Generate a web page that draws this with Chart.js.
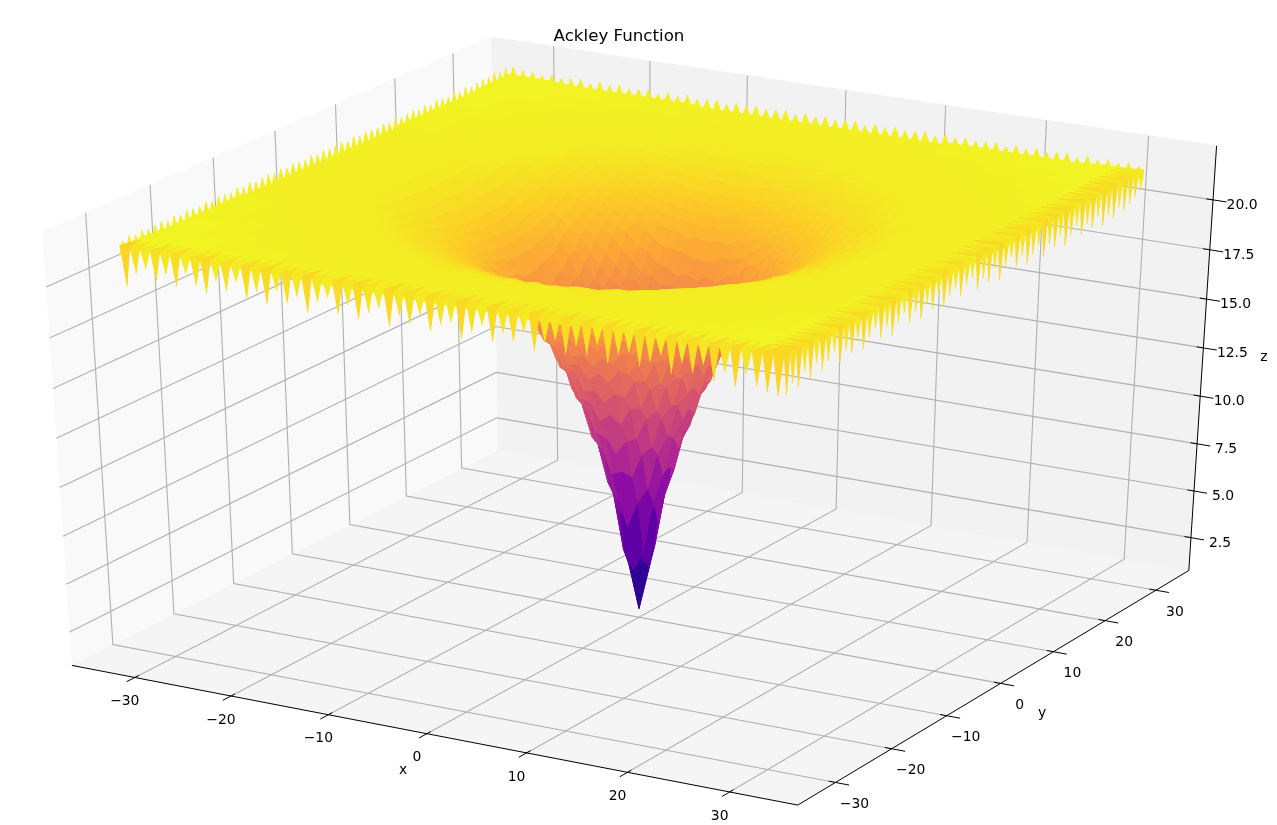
<!DOCTYPE html>
<html>
<head>
<meta charset="utf-8">
<title>Ackley Function</title>
<script src="https://cdn.jsdelivr.net/npm/chart.js@4"></script>
<style>
  html, body { margin: 0; padding: 0; background: #fff; }
  canvas { display: block; }
</style>
</head>
<body>
<canvas id="surface" width="1277" height="825"></canvas>
<script>
var xTicks = [-30, -20, -10, 0, 10, 20, 30]
var yTicks = [-30, -20, -10, 0, 10, 20, 30]
var zTicks = [2.5, 5, 7.5, 10, 12.5, 15, 17.5, 20]

// distance from the centre of each grid line, the table covers one quadrant
var gridSteps = [0, 1, 2, 3, 4, 5, 6, 7, 8, 9, 10, 11, 12, 13, 14, 15, 16, 17.5, 19, 21, 23, 25.5, 28.5, 32]

var zQuadrant = [
    [1.2, 3.4, 5.9, 8.9, 10, 12.1, 12.9, 14.5, 15, 16.3, 16.7, 17.6, 18.4, 19, 19.3, 19.8, 20, 20.4, 20.7, 21.1, 21.3, 21.3, 21.4, 21.5],
    [3.4, 4.4, 7.2, 8.7, 10.7, 11.7, 13.4, 14.1, 15.5, 16, 17, 17.6, 18.5, 18.9, 19.4, 19.6, 20.1, 20.3, 20.8, 21, 21.4, 21.3, 21.4, 21.5],
    [5.9, 7.2, 8, 9.9, 10.9, 12.6, 13.3, 14.8, 15.3, 16.5, 16.8, 17.9, 18.4, 19, 19.3, 19.7, 20, 20.5, 20.7, 21.1, 21.3, 21.4, 21.4, 21.5],
    [8.9, 8.7, 9.9, 10.4, 12, 12.7, 14.2, 14.7, 15.9, 16.4, 17.2, 17.9, 18.7, 19, 19.4, 19.8, 20.1, 20.5, 20.7, 21.1, 21.3, 21.4, 21.4, 21.5],
    [10, 10.7, 10.9, 12, 12.5, 13.8, 14.3, 15.5, 15.9, 16.8, 17.3, 18, 18.7, 19.2, 19.5, 19.9, 20.1, 20.5, 20.8, 21.1, 21.4, 21.4, 21.4, 21.5],
    [12.1, 11.7, 12.6, 12.7, 13.8, 14.1, 15.3, 15.6, 16.6, 16.9, 17.9, 18.4, 19, 19.2, 19.7, 19.9, 20.3, 20.5, 20.9, 21.1, 21.4, 21.4, 21.4, 21.5],
    [12.9, 13.4, 13.3, 14.2, 14.3, 15.3, 15.5, 16.4, 16.7, 17.5, 18, 18.8, 19, 19.5, 19.7, 20.1, 20.3, 20.6, 20.9, 21.2, 21.3, 21.4, 21.4, 21.5],
    [14.5, 14.1, 14.8, 14.7, 15.5, 15.6, 16.4, 16.7, 17.3, 17.9, 18.6, 18.9, 19.3, 19.6, 19.9, 20.2, 20.4, 20.7, 20.9, 21.2, 21.3, 21.4, 21.4, 21.5],
    [15, 15.5, 15.3, 15.9, 15.9, 16.6, 16.7, 17.3, 17.8, 18.5, 18.8, 19.2, 19.5, 19.8, 20.1, 20.3, 20.5, 20.7, 21, 21.2, 21.3, 21.4, 21.4, 21.5],
    [16.3, 16, 16.5, 16.4, 16.8, 16.9, 17.5, 17.9, 18.5, 18.8, 19.1, 19.4, 19.7, 19.9, 20.2, 20.4, 20.6, 20.8, 21.1, 21.3, 21.3, 21.4, 21.4, 21.5],
    [16.7, 17, 16.8, 17.2, 17.3, 17.9, 18, 18.6, 18.8, 19.1, 19.4, 19.7, 19.9, 20.1, 20.4, 20.5, 20.7, 20.9, 21.1, 21.4, 21.3, 21.4, 21.4, 21.5],
    [17.6, 17.6, 17.9, 17.9, 18, 18.4, 18.8, 18.9, 19.2, 19.4, 19.7, 19.9, 20.1, 20.3, 20.5, 20.7, 20.8, 21, 21.2, 21.4, 21.4, 21.4, 21.4, 21.5],
    [18.4, 18.5, 18.4, 18.7, 18.7, 19, 19, 19.3, 19.5, 19.7, 19.9, 20.1, 20.3, 20.4, 20.6, 20.8, 20.9, 21.1, 21.3, 21.4, 21.4, 21.4, 21.4, 21.5],
    [19, 18.9, 19, 19, 19.2, 19.2, 19.5, 19.6, 19.8, 19.9, 20.1, 20.3, 20.4, 20.6, 20.7, 20.9, 21, 21.2, 21.3, 21.4, 21.4, 21.4, 21.5, 21.6],
    [19.3, 19.4, 19.3, 19.4, 19.5, 19.7, 19.7, 19.9, 20.1, 20.2, 20.4, 20.5, 20.6, 20.7, 20.9, 21, 21.1, 21.3, 21.3, 21.4, 21.4, 21.4, 21.5, 21.6],
    [19.8, 19.6, 19.7, 19.8, 19.9, 19.9, 20.1, 20.2, 20.3, 20.4, 20.5, 20.7, 20.8, 20.9, 21, 21.1, 21.2, 21.3, 21.3, 21.4, 21.4, 21.4, 21.5, 21.6],
    [20, 20.1, 20, 20.1, 20.1, 20.3, 20.3, 20.4, 20.5, 20.6, 20.7, 20.8, 20.9, 21, 21.1, 21.2, 21.3, 21.3, 21.4, 21.4, 21.4, 21.4, 21.5, 21.6],
    [20.4, 20.3, 20.5, 20.5, 20.5, 20.5, 20.6, 20.7, 20.7, 20.8, 20.9, 21, 21.1, 21.2, 21.3, 21.3, 21.3, 21.4, 21.4, 21.4, 21.4, 21.5, 21.5, 21.6],
    [20.7, 20.8, 20.7, 20.7, 20.8, 20.9, 20.9, 20.9, 21, 21.1, 21.1, 21.2, 21.3, 21.3, 21.3, 21.3, 21.4, 21.4, 21.4, 21.4, 21.4, 21.5, 21.5, 21.6],
    [21.1, 21, 21.1, 21.1, 21.1, 21.1, 21.2, 21.2, 21.2, 21.3, 21.4, 21.4, 21.4, 21.4, 21.4, 21.4, 21.4, 21.4, 21.4, 21.4, 21.5, 21.5, 21.6, 21.6],
    [21.3, 21.4, 21.3, 21.3, 21.4, 21.4, 21.3, 21.3, 21.3, 21.3, 21.3, 21.4, 21.4, 21.4, 21.4, 21.4, 21.4, 21.4, 21.4, 21.5, 21.5, 21.5, 21.6, 21.6],
    [21.3, 21.3, 21.4, 21.4, 21.4, 21.4, 21.4, 21.4, 21.4, 21.4, 21.4, 21.4, 21.4, 21.4, 21.4, 21.4, 21.4, 21.5, 21.5, 21.5, 21.5, 21.6, 21.6, 21.6],
    [21.4, 21.4, 21.4, 21.4, 21.4, 21.4, 21.4, 21.4, 21.4, 21.4, 21.4, 21.4, 21.4, 21.5, 21.5, 21.5, 21.5, 21.5, 21.5, 21.6, 21.6, 21.6, 21.6, 21.7],
    [21.5, 21.5, 21.5, 21.5, 21.5, 21.5, 21.5, 21.5, 21.5, 21.5, 21.5, 21.5, 21.5, 21.6, 21.6, 21.6, 21.6, 21.6, 21.6, 21.6, 21.6, 21.6, 21.7, 21.7]
]

// tips of the saw teeth along the four rim edges, one per unit of x or y
var backLeftTips = [
    21.9, 22, 21.9, 22, 21.9, 21.95, 22, 21.9, 22, 21.9, 22, 21.95, 21.9, 22, 21.9, 22,
    21.95, 21.9, 22, 21.9, 22, 21.9, 21.95, 22, 21.9, 22, 21.9, 22, 21.95, 21.9, 22, 21.9,
    22, 21.9, 21.95, 22, 21.9, 22, 21.9, 22, 21.95, 21.9, 22, 21.9, 22, 21.9, 21.95, 22,
    21.9, 22, 21.9, 22, 21.95, 21.9, 22, 21.9, 22, 21.9, 21.95, 22, 22, 22.1, 22, 22.1
]
var backRightTips = [
    22.1, 22, 22, 21.9, 22, 21.9, 21.95, 22, 21.85, 22, 21.9, 22, 21.9, 21.95, 22, 21.85,
    22, 21.9, 22, 21.9, 21.95, 22, 21.85, 22, 21.9, 22, 21.9, 21.95, 22, 21.85, 22, 21.9,
    22, 21.9, 21.95, 22, 21.85, 22, 21.9, 22, 21.9, 21.95, 22, 21.85, 22, 21.9, 22, 21.9,
    21.95, 22, 21.85, 22, 21.9, 22, 21.9, 21.95, 22, 21.85, 22, 21.9, 22, 21.9, 22, 21.9
]
var frontLeftTips = [
    19.8, 20.5, 20.8, 20.3, 20.7, 20.2, 20.9, 20.4, 20.1, 20.8, 20.4, 20.9, 20.2, 20.6, 20.1, 20.8,
    20.3, 20.7, 20, 20.6, 20.9, 20.2, 20.7, 20.1, 20.5, 20.8, 20, 20.6, 20.3, 20.8, 20.1, 20.5,
    20.7, 20, 20.4, 20.8, 20.1, 20.6, 20.3, 20.8, 20, 20.5, 20.7, 20.1, 20.6, 20.2, 20.8, 20,
    20.5, 20.7, 20.1, 20.4, 20.8, 20, 20.6, 20.2, 20.7, 20, 20.5, 19.9, 20.6, 20.1, 19.9, 19.8
]
var frontRightTips = [
    19.8, 20.2, 19.9, 20.5, 20, 20.6, 20.1, 20.4, 20.7, 20, 20.5, 20.2, 20.7, 20.1, 20.5, 20.8,
    20.2, 20.6, 20, 20.5, 20.8, 20.2, 20.6, 20.1, 20.7, 20.3, 20.8, 20.1, 20.5, 20.7, 20.2, 20.6,
    20.8, 20.1, 20.5, 20.2, 20.7, 20, 20.5, 20.8, 20.2, 20.6, 20.1, 20.4, 20.7, 20, 20.5, 20.2,
    20.6, 20, 20.4, 20.7, 20.1, 20.5, 20.2, 20.6, 20, 20.4, 20.1, 20.5, 20.2, 20.4, 20.6, 20.8
]

var plasma = ['#0d0887', '#41049d', '#6a00a8', '#8f0da4', '#b12a90', '#cc4778',
              '#e16462', '#f2844b', '#fca636', '#fcce25', '#f0f921']

var xLimit = 36.6
var zLow = 0.725
var zHigh = 22.675
var zMin = 1.8
var zMax = 21.9

function project(x, y, z) {
    var px = x / (2 * xLimit)
    var py = y / (2 * xLimit)
    var pz = (z - (zLow + zHigh) / 2) / (zHigh - zLow)
    var a = 0.866 * px + 0.5 * py
    var b = -0.25 * px + 0.433 * py + 0.866 * pz
    var c = 0.433 * px - 0.75 * py + 0.5 * pz
    var d = 10 - c
    return { x: 639 + 8379 * a / d, y: 408 - 4952 * b / d, depth: d }
}

function hexToRgb(hex) {
    return [parseInt(hex.slice(1, 3), 16), parseInt(hex.slice(3, 5), 16), parseInt(hex.slice(5, 7), 16)]
}

function colorFor(z) {
    var t = Math.min(1, Math.max(0, (z - zMin) / (zMax - zMin))) * (plasma.length - 1)
    var i = Math.min(plasma.length - 2, Math.floor(t))
    var c0 = hexToRgb(plasma[i])
    var c1 = hexToRgb(plasma[i + 1])
    var f = t - i
    return 'rgb(' + [0, 1, 2].map(function (k) { return Math.round(c0[k] + (c1[k] - c0[k]) * f) }).join(',') + ')'
}

function polygon(points, color) {
    return {
        data: points.map(function (p) { return { x: p.x, y: p.y } }),
        showLine: true,
        fill: 'shape',
        backgroundColor: color,
        borderColor: color,
        borderWidth: 1,
        pointRadius: 0,
        tension: 0
    }
}

function line(points, color, width) {
    return {
        data: points.map(function (p) { return { x: p.x, y: p.y } }),
        showLine: true,
        fill: false,
        borderColor: color,
        borderWidth: width,
        pointRadius: 0,
        tension: 0
    }
}

// mirror the quadrant to get the whole grid
var lastStep = gridSteps.length - 1
var gridAxis = []
for (let i = lastStep; i > 0; i--) gridAxis.push({ v: -gridSteps[i], k: i })
for (let i = 0; i <= lastStep; i++) gridAxis.push({ v: gridSteps[i], k: i })

var cells = []
for (let i = 0; i < gridAxis.length - 1; i++) {
    for (let j = 0; j < gridAxis.length - 1; j++) {
        let corners = [[i, j], [i + 1, j], [i + 1, j + 1], [i, j + 1]].map(function (n) {
            let gx = gridAxis[n[0]]
            let gy = gridAxis[n[1]]
            return { x: gx.v, y: gy.v, z: zQuadrant[gx.k][gy.k] }
        })
        let meanZ = corners.reduce(function (s, c) { return s + c.z }, 0) / 4
        let pts = corners.map(function (c) { return project(c.x, c.y, c.z) })
        let depth = pts.reduce(function (s, p) { return s + p.depth }, 0) / 4
        cells.push({ set: polygon(pts, colorFor(meanZ)), depth: depth })
    }
}
cells.sort(function (a, b) { return a.depth - b.depth })

// back rim: plain teeth sticking up from behind the plate
function backTeeth(tips, place) {
    return tips.map(function (tip, k) {
        let s = -32 + k
        let a = place(s)
        let b = place(s + 1)
        let m = place(s + 0.5)
        return polygon([
            project(a[0], a[1], 21.3),
            project(m[0], m[1], tip),
            project(b[0], b[1], 21.3)
        ], colorFor(21.5))
    })
}

// front rim: diamonds, one point up on the plate, one hanging below the edge
function frontTeeth(tips, place, inward) {
    return tips.map(function (tip, k) {
        let s = -32 + k
        let a = place(s)
        let b = place(s + 1)
        let m = place(s + 0.5)
        return polygon([
            project(a[0], a[1], 21.75),
            project(m[0] + inward[0], m[1] + inward[1], 21.7),
            project(b[0], b[1], 21.75),
            project(m[0], m[1], tip)
        ], colorFor(tip + 0.4))
    })
}

var behindTeeth = backTeeth(backLeftTips, function (s) { return [-32, s] })
    .concat(backTeeth(backRightTips, function (s) { return [s, 32] }))
var nearTeeth = frontTeeth(frontLeftTips, function (s) { return [s, -32] }, [0, 2.5])
    .concat(frontTeeth(frontRightTips, function (s) { return [32, s] }, [-2.5, 0]))

// panes and grid lines
var panes = [
    polygon([project(-xLimit, -xLimit, zLow), project(-xLimit, xLimit, zLow), project(-xLimit, xLimit, zHigh), project(-xLimit, -xLimit, zHigh)], '#f9f9f9'),
    polygon([project(-xLimit, xLimit, zLow), project(xLimit, xLimit, zLow), project(xLimit, xLimit, zHigh), project(-xLimit, xLimit, zHigh)], '#f2f2f2'),
    polygon([project(-xLimit, -xLimit, zLow), project(xLimit, -xLimit, zLow), project(xLimit, xLimit, zLow), project(-xLimit, xLimit, zLow)], '#f5f5f5')
]

var gridColor = '#b0b0b0'
var gridLines = []
xTicks.forEach(function (x) {
    gridLines.push(line([project(x, -xLimit, zLow), project(x, xLimit, zLow), project(x, xLimit, zHigh)], gridColor, 1.1))
})
yTicks.forEach(function (y) {
    gridLines.push(line([project(xLimit, y, zLow), project(-xLimit, y, zLow), project(-xLimit, y, zHigh)], gridColor, 1.1))
})
zTicks.forEach(function (z) {
    gridLines.push(line([project(-xLimit, -xLimit, z), project(-xLimit, xLimit, z), project(xLimit, xLimit, z)], gridColor, 1.1))
})

var tickOut = 0.018 * 2 * xLimit
var tickIn = 0.009 * 2 * xLimit
var axisLines = [
    line([project(-xLimit, -xLimit, zLow), project(xLimit, -xLimit, zLow)], '#000', 1),
    line([project(xLimit, -xLimit, zLow), project(xLimit, xLimit, zLow)], '#000', 1),
    line([project(xLimit, xLimit, zLow), project(xLimit, xLimit, zHigh)], '#000', 1)
]
xTicks.forEach(function (x) {
    axisLines.push(line([project(x, -xLimit - tickOut, zLow), project(x, -xLimit + tickIn, zLow)], '#000', 1))
})
yTicks.forEach(function (y) {
    axisLines.push(line([project(xLimit + tickOut, y, zLow), project(xLimit - tickIn, y, zLow)], '#000', 1))
})
zTicks.forEach(function (z) {
    axisLines.push(line([project(xLimit + tickOut, xLimit, z), project(xLimit - tickIn, xLimit, z)], '#000', 1))
})

// chart.js paints the last dataset first, so the nearest things come first in the list
var datasets = nearTeeth
    .concat(cells.map(function (c) { return c.set }))
    .concat(behindTeeth)
    .concat(axisLines)
    .concat(gridLines)
    .concat(panes)

function tickText(v) {
    return String(v).replace('-', '\u2212')
}

var axisText = {
    id: 'axisText',
    afterDraw: function (chart) {
        var ctx = chart.ctx
        var sx = chart.scales.x
        var sy = chart.scales.y
        function put(text, p, dx, dy, font) {
            ctx.font = font
            ctx.fillText(text, sx.getPixelForValue(p.x) + dx, sy.getPixelForValue(p.y) + dy)
        }
        ctx.save()
        ctx.fillStyle = '#000'
        ctx.textAlign = 'center'
        ctx.textBaseline = 'middle'
        var tickFont = '13.9px "DejaVu Sans"'
        xTicks.forEach(function (x) {
            put(tickText(x), project(x, -xLimit, zLow), -10, 24, tickFont)
        })
        yTicks.forEach(function (y) {
            put(tickText(y), project(xLimit, y, zLow), 19, 22, tickFont)
        })
        zTicks.forEach(function (z) {
            put(z.toFixed(1), project(xLimit, xLimit, z), 29, 5.5, tickFont)
        })
        put('x', { x: 403, y: 770 }, 0, 0, tickFont)
        put('y', { x: 1042, y: 713 }, 0, 0, tickFont)
        put('z', { x: 1264, y: 357 }, 0, 0, tickFont)
        put('Ackley Function', { x: 619, y: 37 }, 0, 0, '16.67px "DejaVu Sans"')
        ctx.restore()
    }
}

new Chart('surface', {
    type: 'scatter',
    data: { datasets: datasets },
    options: {
        responsive: false,
        animation: false,
        events: [],
        layout: { padding: 0 },
        plugins: {
            legend: { display: false },
            tooltip: { enabled: false }
        },
        scales: {
            x: { type: 'linear', min: 0, max: 1277, display: false },
            y: { type: 'linear', min: 0, max: 825, reverse: true, display: false }
        }
    },
    plugins: [axisText]
})
</script>
</body>
</html>
